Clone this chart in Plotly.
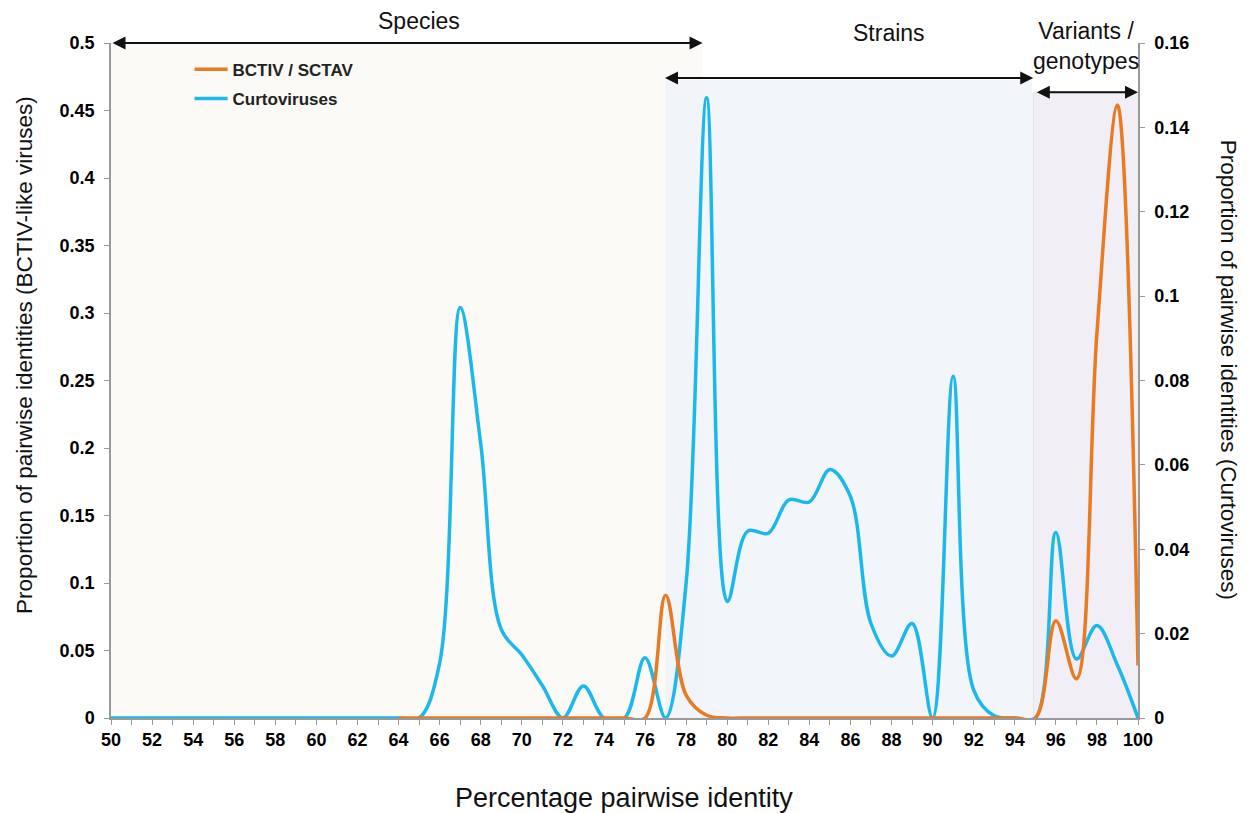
import plotly.graph_objects as go

# ---- data ----
x_blue = list(range(50, 101))
# Curtoviruses (right axis)
blue_vals = [0]*15 + [  # 50..64
    0.0,     # 65
    0.013,   # 66
    0.0973,  # 67
    0.065,   # 68
    0.021,   # 69
    0.015,   # 70
    0.0077,  # 71
    0.0,     # 72
    0.0076,  # 73
    0.0,     # 74
    0.0,     # 75
    0.0143,  # 76
    0.0,     # 77
    0.032,   # 78
    0.147,   # 79
    0.0276,  # 80
    0.0443,  # 81
    0.0438,  # 82
    0.0517,  # 83
    0.0512,  # 84
    0.0589,  # 85
    0.0525,  # 86
    0.0224,  # 87
    0.0147,  # 88
    0.0224,  # 89
    0.0,     # 90
    0.081,   # 91
    0.0066,  # 92
    0.0005,  # 93
    0.0,     # 94
    0.0,     # 95
    0.044,   # 96
    0.014,   # 97
    0.0219,  # 98
    0.0125,  # 99
    0.0,     # 100
]

x_orange = list(range(64, 101))
# BCTIV / SCTAV (left axis)
orange_vals = [0.0]*12 + [  # 64..75
    0.0,    # 76
    0.091,  # 77
    0.017,  # 78
    0.002,  # 79
] + [0.0]*16 + [  # 80..95
    0.072,  # 96
    0.029,  # 97
    0.285,  # 98
    0.454,  # 99
    0.039,  # 100
]

x_ticks = list(range(50, 101))
x_ticktext = [str(v) if v % 2 == 0 else "" for v in x_ticks]
left_ticks = [0, 0.05, 0.1, 0.15, 0.2, 0.25, 0.3, 0.35, 0.4, 0.45, 0.5]
left_ticktext = ["0", "0.05", "0.1", "0.15", "0.2", "0.25", "0.3", "0.35", "0.4", "0.45", "0.5"]
right_ticks = [0, 0.02, 0.04, 0.06, 0.08, 0.1, 0.12, 0.14, 0.16]
right_ticktext = ["0", "0.02", "0.04", "0.06", "0.08", "0.1", "0.12", "0.14", "0.16"]

ORANGE = "#E87A24"
BLUE = "#1CB8EC"
FONT = "Liberation Sans, Arial, sans-serif"

fig = go.Figure()
fig.add_trace(go.Scatter(
    x=x_blue, y=blue_vals, name="Curtoviruses", mode="lines",
    line=dict(color=BLUE, width=3.5, shape="spline", smoothing=1.0),
    yaxis="y", legendrank=2, legendgroup="b", cliponaxis=True))
fig.add_trace(go.Scatter(
    x=x_orange, y=orange_vals, name="BCTIV / SCTAV", mode="lines",
    line=dict(color=ORANGE, width=3.5, shape="spline", smoothing=1.0),
    yaxis="y2", legendrank=1, legendgroup="a", cliponaxis=True))

# background regions
fig.add_shape(type="rect", xref="x", yref="paper", x0=50, x1=78.8, y0=0, y1=1,
              fillcolor="#FBFAF6", line_width=0, layer="below")
fig.add_shape(type="rect", xref="x", yref="paper", x0=77.0, x1=94.85, y0=0, y1=0.945,
              fillcolor="#EEF1F8", opacity=0.75, line_width=0, layer="below")
fig.add_shape(type="rect", xref="x", yref="paper", x0=94.9, x1=100, y0=0, y1=0.928,
              fillcolor="#F1EFF5", line_width=0, layer="below")
fig.add_shape(type="line", xref="x", yref="paper", x0=94.9, x1=94.9, y0=0, y1=0.928,
              line=dict(color="#DDDDE4", width=1), layer="below")

# arrows
def darrow(x0, x1, y):
    fig.add_annotation(x=x1, y=y, ax=x0, ay=0, xref="x", yref="paper",
                       axref="x", ayref="pixel", text="", showarrow=True,
                       arrowhead=2, arrowside="end+start", arrowsize=1.3,
                       arrowwidth=2, arrowcolor="#111111", standoff=0, startstandoff=0)

darrow(50, 78.8, 1.0)
darrow(76.9, 94.9, 0.948)
darrow(95.0, 100, 0.927)

TXT = dict(family="Liberation Sans Narrow, Arial Narrow, Liberation Sans, Arial", size=23, color="#111111")
fig.add_annotation(x=65.0, y=1.032, xref="x", yref="paper", text="Species",
                   showarrow=False, font=TXT, xanchor="center", yanchor="middle")
fig.add_annotation(x=87.9, y=1.015, xref="x", yref="paper", text="Strains",
                   showarrow=False, font=TXT, xanchor="center", yanchor="middle")
fig.add_annotation(x=97.45, y=0.995, xref="x", yref="paper", text="Variants /<br>genotypes",
                   showarrow=False, font=TXT, xanchor="center", yanchor="middle")

TITLE = dict(family=FONT, size=22.5, color="#111111")
# axis titles
fig.add_annotation(x=1.0876, y=0.516, xref="paper", yref="paper",
                   text="Proportion of pairwise identities (Curtoviruses)",
                   textangle=90, showarrow=False, font=TITLE,
                   xanchor="center", yanchor="middle")
fig.add_annotation(x=-0.0837, y=0.538, xref="paper", yref="paper",
                   text="Proportion of pairwise identities (BCTIV-like viruses)",
                   textangle=-90, showarrow=False, font=TITLE,
                   xanchor="center", yanchor="middle")
fig.add_annotation(x=0.4995, y=-0.1185, xref="paper", yref="paper",
                   text="Percentage pairwise identity",
                   showarrow=False, font=dict(family=FONT, size=27, color="#111111"),
                   xanchor="center", yanchor="middle")

tickfont = dict(family=FONT, size=18, color="#000000", weight="bold")

fig.update_layout(
    width=1246, height=805,
    margin=dict(l=103, r=116, t=35, b=95, autoexpand=False),
    paper_bgcolor="white", plot_bgcolor="white",
    font=dict(family=FONT, color="#111111"),
    xaxis=dict(range=[50, 100], tickvals=x_ticks, ticktext=x_ticktext,
               ticks="outside", ticklen=5, tickcolor="#999999", tickwidth=1,
               showline=True, linecolor="#999999", linewidth=1.5,
               showgrid=False, zeroline=False, tickfont=tickfont),
    yaxis=dict(range=[0, 0.16], tickvals=right_ticks, ticktext=right_ticktext,
               side="right", ticks="outside", ticklen=5, tickcolor="#999999",
               showline=True, linecolor="#999999", linewidth=1.5,
               showgrid=False, zeroline=False, tickfont=tickfont, ticklabelstandoff=6),
    yaxis2=dict(range=[0, 0.5], tickvals=left_ticks, ticktext=left_ticktext,
                side="left", overlaying="y", anchor="x",
                ticks="outside", ticklen=5, tickcolor="#999999",
                showline=True, linecolor="#999999", linewidth=1.5,
                showgrid=False, zeroline=False, tickfont=tickfont, ticklabelstandoff=6),
    legend=dict(x=0.0765, y=0.987, xanchor="left", yanchor="top",
                bgcolor="rgba(0,0,0,0)", traceorder="grouped",
                font=dict(family=FONT, size=17, color="#222222", weight="bold"),
                itemwidth=33, tracegroupgap=4),
    showlegend=True,
)

fig.write_html("out.html")
